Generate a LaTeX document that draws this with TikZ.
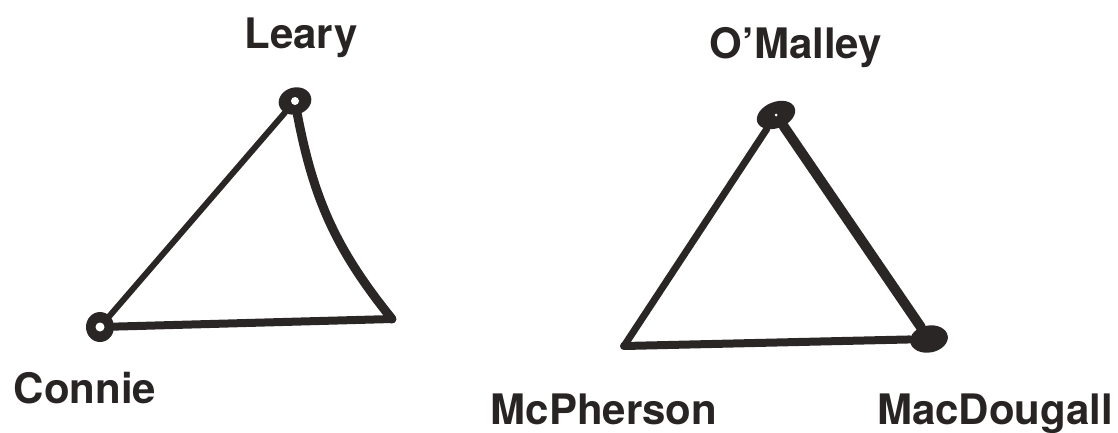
\documentclass[tikz,border=0pt]{standalone}
\usepackage{fontspec}
\setmainfont{TeX Gyre Heros}
\usepackage{xcolor}
\usepackage{tikz}
\usetikzlibrary{shapes.geometric}

\definecolor{ink}{HTML}{2A2626}

\begin{document}
\begin{tikzpicture}[
  x=1pt, y=-1pt,
  person/.style={anchor=base, text=ink!95!black, font=\fontsize{42}{50}\selectfont\bfseries, inner sep=0},
  knot/.style={ellipse, fill=ink, inner sep=0},
  tie/.style={draw=ink, line cap=round, line join=round}
  ]
  \useasboundingbox (0,0) rectangle (1118,432);
  % left triangle
  \node[knot, minimum width=33, minimum height=27, rotate=15] (leary) at (295,101) {};
  \node[knot, minimum width=28, minimum height=30] (connie) at (100,327) {};
  \coordinate (lcorner) at (392,319);
  \draw[tie, line width=6] (leary) -- (connie);
  \draw[tie, line width=9] (leary) to[bend right=14] (lcorner);
  \draw[tie, line width=8] (connie) -- (lcorner);
  \fill[white] (leary.center) circle (4);
  \fill[white] (connie.center) circle (4.5);
  % right triangle
  \node[knot, minimum width=40, minimum height=26, rotate=22] (omalley) at (776,115) {};
  \node[knot, minimum width=38, minimum height=27, rotate=10] (macdougall) at (929,339) {};
  \coordinate (mcpherson) at (624,346);
  \draw[tie, line width=7] (omalley) -- (mcpherson);
  \draw[tie, line width=10] (omalley) -- (macdougall);
  \draw[tie, line width=8] (mcpherson) -- (macdougall);
  \fill[white] (omalley.center) circle (1.5);
  % names
  \node[person] (learyname) at (301,48) {Leary};
  \node[person] (omalleyname) at (796,58) {O’Malley};
  \node[person] (conniename) at (85,403) {Connie};
  \node[person] (mcphersonname) at (604,424) {McPherson};
  \node[person] (macdougallname) at (995,424) {MacDougall};
\end{tikzpicture}
\end{document}
